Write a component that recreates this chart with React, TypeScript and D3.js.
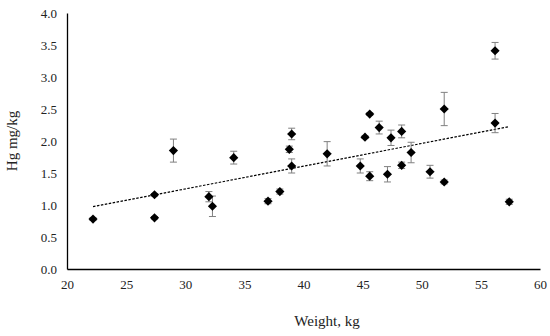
import React, { useEffect, useRef } from "react"
import * as d3 from "d3"

// fish weight (kg), mean Hg (mg/kg) and its error
const weights = [22.2, 27.4, 27.4, 29.0, 32.0, 32.3, 34.1, 37.0, 38.0, 38.8, 39.0, 39.0, 42.0, 44.8, 45.2, 45.6, 45.6, 46.4, 47.1, 47.4, 48.3, 48.3, 49.1, 50.7, 51.9, 51.9, 56.2, 56.2, 57.4]
const hgValues = [0.78, 1.16, 0.80, 1.85, 1.13, 0.98, 1.74, 1.06, 1.21, 1.87, 2.11, 1.61, 1.80, 1.61, 2.06, 2.42, 1.45, 2.21, 1.48, 2.05, 2.15, 1.62, 1.82, 1.52, 1.36, 2.50, 3.41, 2.28, 1.05]
const hgErrors = [0.02, 0.02, 0.02, 0.18, 0.08, 0.16, 0.10, 0.04, 0.04, 0.05, 0.09, 0.11, 0.19, 0.11, 0.02, 0.02, 0.07, 0.10, 0.12, 0.12, 0.10, 0.05, 0.16, 0.10, 0.03, 0.26, 0.13, 0.15, 0.04]
const xTicks = [20, 25, 30, 35, 40, 45, 50, 55, 60]
const yTicks = [0, 0.5, 1, 1.5, 2, 2.5, 3, 3.5, 4]

const font = "'Liberation Serif', 'Times New Roman', serif"

export default function App() {
    const ref = useRef<SVGSVGElement>(null)

    useEffect(() => {
        const svg = d3.select(ref.current)
        svg.selectAll("*").remove()

        const x = d3.scaleLinear().domain([20, 60]).range([67, 540])
        const y = d3.scaleLinear().domain([0, 4]).range([269, 13])

        const data = weights.map((w, i) => ({ w, hg: hgValues[i], err: hgErrors[i] }))

        // least squares trend line
        const mx = d3.mean(weights)
        const my = d3.mean(hgValues)
        let sxy = 0, sxx = 0
        data.forEach(d => {
            sxy += (d.w - mx) * (d.hg - my)
            sxx += (d.w - mx) * (d.w - mx)
        })
        const slope = sxy / sxx
        const icept = my - slope * mx
        const [x0, x1] = d3.extent(weights)

        const xAxis = d3.axisBottom(x).tickValues(xTicks).tickSize(0).tickSizeOuter(0).tickPadding(11)
        const yAxis = d3.axisLeft(y).tickValues(yTicks).tickSize(0).tickSizeOuter(0).tickPadding(10)
            .tickFormat(d3.format(".1f"))

        const gx = svg.append("g").attr("transform", "translate(0,269)").call(xAxis)
        const gy = svg.append("g").attr("transform", "translate(67,0)").call(yAxis)
        for (const g of [gx, gy]) {
            g.select(".domain").attr("stroke", "#000").attr("stroke-width", 1.3)
            g.selectAll("text").attr("font-family", font).attr("font-size", 13).attr("fill", "#222")
        }

        svg.append("line")
            .attr("x1", x(x0)).attr("y1", y(icept + slope * x0))
            .attr("x2", x(x1)).attr("y2", y(icept + slope * x1))
            .attr("stroke", "#000")
            .attr("stroke-width", 1.2)
            .attr("stroke-dasharray", "2.5,1.5")

        const bars = svg.append("g").attr("stroke", "#808080").attr("stroke-width", 1)
        data.forEach(d => {
            const xp = x(d.w)
            const top = y(d.hg + d.err)
            const bot = y(d.hg - d.err)
            bars.append("line").attr("x1", xp).attr("x2", xp).attr("y1", top).attr("y2", bot)
            bars.append("line").attr("x1", xp - 3.5).attr("x2", xp + 3.5).attr("y1", top).attr("y2", top)
            bars.append("line").attr("x1", xp - 3.5).attr("x2", xp + 3.5).attr("y1", bot).attr("y2", bot)
        })

        const diamond = d3.symbol(d3.symbolSquare, 42)
        svg.append("g").selectAll("path")
            .data(data)
            .enter()
            .append("path")
            .attr("d", diamond)
            .attr("transform", d => "translate(" + x(d.w) + "," + y(d.hg) + ") rotate(45)")
            .attr("fill", "#000")

        svg.append("text")
            .attr("transform", "translate(14,141) rotate(-90)")
            .attr("text-anchor", "middle")
            .attr("dominant-baseline", "middle")
            .attr("font-family", font)
            .attr("font-size", 15)
            .attr("fill", "#222")
            .text("Hg mg/kg")

        svg.append("text")
            .attr("x", 327)
            .attr("y", 323)
            .attr("text-anchor", "middle")
            .attr("dominant-baseline", "middle")
            .attr("font-family", font)
            .attr("font-size", 15)
            .attr("fill", "#222")
            .text("Weight, kg")
    }, [])

    return (
        <svg ref={ref} width={550} height={336}
            style={{ position: "absolute", left: 0, top: 0, background: "#fff" }} />
    )
}
